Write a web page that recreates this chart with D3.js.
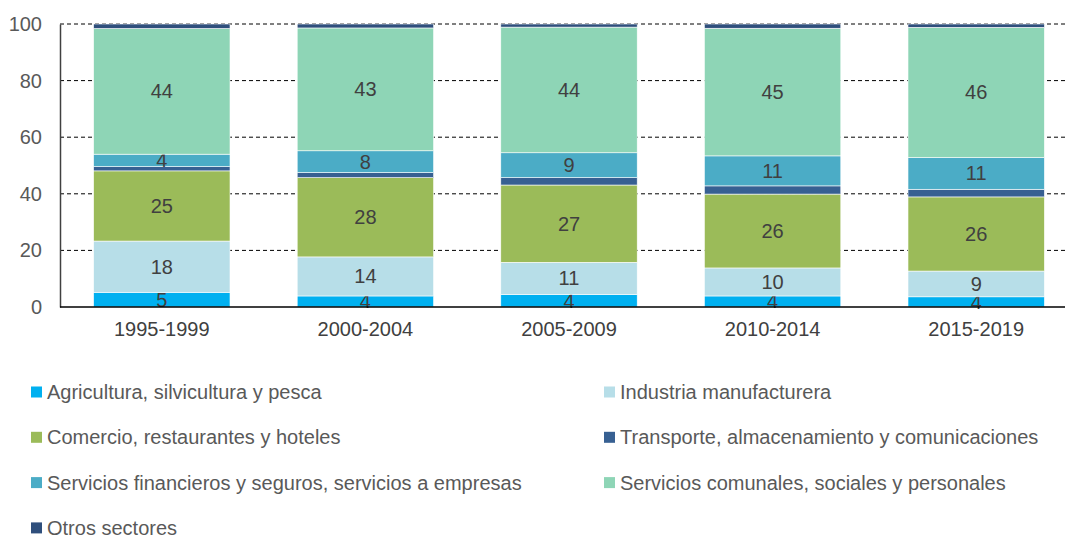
<!DOCTYPE html>
<html>
<head>
<meta charset="utf-8">
<script src="https://cdn.jsdelivr.net/npm/d3@7"></script>
<style>
  body { margin: 0; background: #fff; }
  text { font-family: "Liberation Sans", Arial, sans-serif; }
</style>
</head>
<body>
<script>
// periods on the x axis
var periods = ["1995-1999", "2000-2004", "2005-2009", "2010-2014", "2015-2019"];

// share of each sector (%), one value per period, bottom to top
var agricultura = [5.2, 3.9, 4.4, 3.9, 3.6];
var industria = [18.1, 13.8, 11.4, 9.9, 9.1];
var comercio = [24.8, 28.0, 27.3, 26.1, 26.2];
var transporte = [1.5, 1.8, 2.6, 2.9, 2.7];
var financieros = [4.4, 7.7, 8.8, 10.6, 11.2];
var comunales = [44.4, 43.4, 44.4, 45.1, 46.0];
var otros = [1.6, 1.4, 1.1, 1.5, 1.2];

var sectorNames = [
  "Agricultura, silvicultura y pesca",
  "Industria manufacturera",
  "Comercio, restaurantes y hoteles",
  "Transporte, almacenamiento y comunicaciones",
  "Servicios financieros y seguros, servicios a empresas",
  "Servicios comunales, sociales y personales",
  "Otros sectores"
];
var sectorValues = [agricultura, industria, comercio, transporte, financieros, comunales, otros];
var sectorColors = ["#00b0f0", "#b7dee8", "#9bbb59", "#376092", "#4bacc6", "#8ed5b6", "#2f4f7c"];
var showLabel = [true, true, true, false, true, true, false];

var yTicks = [0, 20, 40, 60, 80, 100];

// build rows for d3.stack
var rows = periods.map((p, i) => {
  var r = { period: p };
  sectorNames.forEach((s, j) => { r[s] = sectorValues[j][i]; });
  return r;
});

var width = 1065, height = 536;
var plotLeft = 60, plotRight = 1078, plotTop = 24, plotBottom = 307;
var fontSize = 20;

var svg = d3.select("body").append("svg")
  .attr("width", width)
  .attr("height", height);

var x = d3.scaleBand()
  .domain(periods)
  .range([plotLeft, plotRight])
  .paddingInner(0.33)
  .paddingOuter(0.165);

var y = d3.scaleLinear()
  .domain([0, 100])
  .range([plotBottom, plotTop]);

// dashed gridlines
svg.append("g")
  .selectAll("line")
  .data(yTicks.filter(d => d > 0))
  .enter()
  .append("line")
  .attr("x1", plotLeft)
  .attr("x2", width)
  .attr("y1", d => y(d))
  .attr("y2", d => y(d))
  .attr("stroke", "#000")
  .attr("stroke-width", 1)
  .attr("stroke-dasharray", "4,3");

var stack = d3.stack().keys(sectorNames);
var series = stack(rows);

var groups = svg.append("g")
  .selectAll("g")
  .data(series)
  .enter()
  .append("g")
  .attr("fill", (d, i) => sectorColors[i]);

groups.selectAll("rect")
  .data(d => d)
  .enter()
  .append("rect")
  .attr("x", d => x(d.data.period))
  .attr("width", x.bandwidth())
  .attr("y", d => y(d[1]))
  .attr("height", d => y(d[0]) - y(d[1]))
  .attr("stroke", "#fff")
  .attr("stroke-width", 0.6);

// value labels in the middle of each segment
groups.each(function(s, i) {
  if (!showLabel[i]) return;
  d3.select(this).selectAll("text")
    .data(s)
    .enter()
    .append("text")
    .attr("x", d => x(d.data.period) + x.bandwidth() / 2)
    .attr("y", d => y((d[0] + d[1]) / 2))
    .attr("dy", "0.35em")
    .attr("text-anchor", "middle")
    .attr("font-size", fontSize)
    .attr("fill", "#404040")
    .text(d => Math.round(d[1] - d[0]));
});

// y axis
var yAxis = d3.axisLeft(y)
  .tickValues(yTicks)
  .tickSize(0)
  .tickPadding(18);

var yg = svg.append("g")
  .attr("transform", "translate(" + plotLeft + ",0)")
  .call(yAxis);
yg.select(".domain").attr("stroke", "#404040").attr("stroke-width", 1.5);
yg.selectAll("text")
  .attr("font-size", fontSize)
  .attr("fill", "#595959")
  .attr("font-family", "Liberation Sans, Arial, sans-serif");

// x axis
var xAxis = d3.axisBottom(x)
  .tickSize(0)
  .tickPadding(15);

var xg = svg.append("g")
  .attr("transform", "translate(0," + plotBottom + ")")
  .call(xAxis);
xg.select(".domain").remove();
xg.append("line")
  .attr("x1", plotLeft)
  .attr("x2", width)
  .attr("stroke", "#000")
  .attr("stroke-width", 1.5);
xg.selectAll("text")
  .attr("font-size", fontSize)
  .attr("fill", "#404040")
  .attr("font-family", "Liberation Sans, Arial, sans-serif");

// legend, two columns
var legendX = [31, 604];
var legendY0 = 392, legendStep = 45.3;

var legend = svg.append("g")
  .selectAll("g")
  .data(sectorNames)
  .enter()
  .append("g")
  .attr("transform", (d, i) =>
    "translate(" + legendX[i % 2] + "," + (legendY0 + Math.floor(i / 2) * legendStep) + ")");

legend.append("rect")
  .attr("x", 0)
  .attr("y", -5.5)
  .attr("width", 11)
  .attr("height", 11)
  .attr("fill", (d, i) => sectorColors[i]);

legend.append("text")
  .attr("x", 16)
  .attr("dy", "0.35em")
  .attr("font-size", fontSize)
  .attr("fill", "#595959")
  .text(d => d);
</script>
</body>
</html>
